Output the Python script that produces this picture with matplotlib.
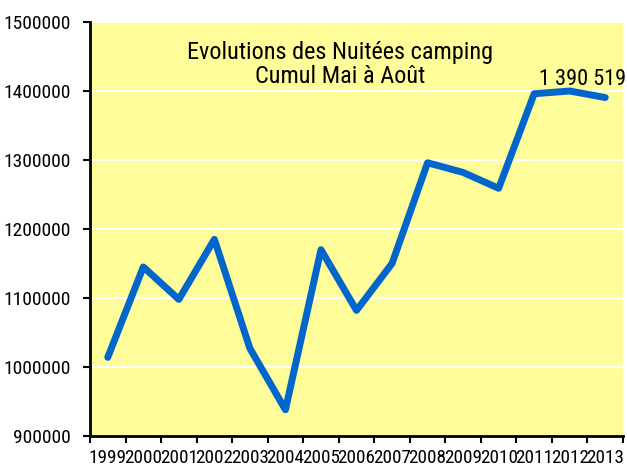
import matplotlib.pyplot as plt
import numpy as np

years = ['1999', '2000', '2001', '2002', '2003', '2004', '2005', '2006',
         '2007', '2008', '2009', '2010', '2011', '2012', '2013']
nuitees = [1014000, 1145000, 1098000, 1185000, 1027000, 938000, 1170000,
           1082000, 1150000, 1296000, 1282000, 1259000, 1396000, 1400000,
           1390519]
yticks = [900000, 1000000, 1100000, 1200000, 1300000, 1400000, 1500000]

# narrow sans to mimic Arial Narrow, with plain fallbacks
plt.rcParams['font.family'] = ['Roboto Condensed', 'Archivo Narrow',
                               'Liberation Sans', 'DejaVu Sans']

fig = plt.figure(figsize=(6.27, 4.68), dpi=100)
ax = fig.add_axes([90 / 627, 1 - 436 / 468, 533 / 627, 414 / 468])
ax.set_facecolor('#FFFD99')

x = np.arange(len(years))
ax.plot(x, nuitees, color='#0066CC', linewidth=5,
        solid_joinstyle='round', solid_capstyle='round')

ax.set_xlim(-0.5, len(years) - 0.5)
ax.set_ylim(yticks[0], yticks[-1])
ax.set_yticks(yticks)
ax.set_yticklabels([str(v) for v in yticks], fontsize=14)
ax.yaxis.grid(True, color='white', linewidth=1.5)
ax.set_axisbelow(True)

# category boundaries carry the ticks, labels sit in the middle
ax.set_xticks(np.arange(-0.5, len(years)), minor=False)
ax.set_xticklabels([])
ax.set_xticks(x, minor=True)
ax.set_xticklabels(years, minor=True, fontsize=13.8)
ax.tick_params(axis='x', which='minor', length=0, pad=9.5)
ax.tick_params(axis='x', which='major', length=5, width=1.5)
ax.tick_params(axis='y', length=5, width=1.5, pad=9)

for side in ['top', 'right']:
    ax.spines[side].set_visible(False)
for side in ['left', 'bottom']:
    ax.spines[side].set_linewidth(2)
    ax.spines[side].set_color('black')

ax.text(0.47, 0.955, 'Evolutions des Nuitées camping\nCumul Mai à Août',
        transform=ax.transAxes, ha='center', va='top', fontsize=17.5,
        linespacing=1.1)

ax.annotate('1 390 519', (x[-1], nuitees[-1]), xytext=(-16, 9),
            textcoords='offset points', ha='center', va='baseline',
            fontsize=16)

fig.savefig('out.png', dpi=100)
